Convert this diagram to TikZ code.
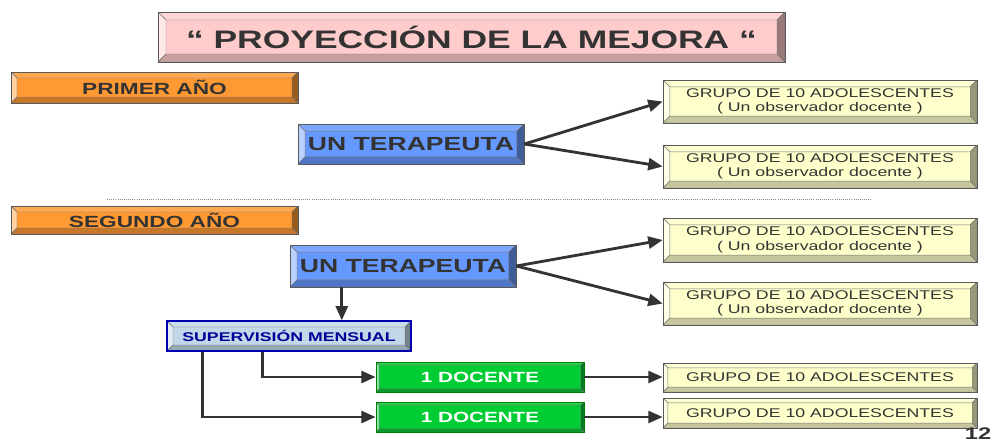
\documentclass[tikz,border=0pt]{standalone}
\usepackage{fontspec}
\setmainfont[FakeStretch=1.4]{Liberation Sans}
\usetikzlibrary{calc,arrows.meta}
\definecolor{pinkface}{HTML}{FFCCCC}
\definecolor{orangeface}{HTML}{FF9933}
\definecolor{blueface}{HTML}{6699FF}
\definecolor{yellowface}{HTML}{FFFFCC}
\definecolor{supface}{HTML}{C2D8E8}
\definecolor{greenface}{HTML}{00CC33}
\definecolor{textgray}{HTML}{333333}
\definecolor{supblue}{HTML}{000099}
\newcommand\bdepth{0.15cm}
\tikzset{
  bevel depth/.store in=\bdepth,
  bevel/.style={fill=#1,draw=black!65,line width=0.5pt,text=textgray,inner sep=0pt,
    path picture={
      \coordinate (bsw) at (path picture bounding box.south west);
      \coordinate (bne) at (path picture bounding box.north east);
      \begin{scope}[draw=black!55,line width=0.3pt]
      % top, left, right, bottom
      \filldraw[fill=#1!85!white] (bsw|-bne) -- (bne) -- ($(bne)+(-\bdepth,-\bdepth)$) -- ($(bsw|-bne)+(\bdepth,-\bdepth)$) -- cycle;
      \filldraw[fill=#1!45!white] (bsw) -- (bsw|-bne) -- ($(bsw|-bne)+(\bdepth,-\bdepth)$) -- ($(bsw)+(\bdepth,\bdepth)$) -- cycle;
      \filldraw[fill=#1!60!black] (bne) -- (bne|-bsw) -- ($(bne|-bsw)+(-\bdepth,\bdepth)$) -- ($(bne)+(-\bdepth,-\bdepth)$) -- cycle;
      \filldraw[fill=#1!78!black] (bsw) -- (bne|-bsw) -- ($(bne|-bsw)+(-\bdepth,\bdepth)$) -- ($(bsw)+(\bdepth,\bdepth)$) -- cycle;
      \end{scope}
    }},
  conn/.style={draw=textgray,line width=2pt,-{Triangle[length=0.36cm,width=0.3cm]}},
  grupo/.style={bevel=yellowface,bevel depth=0.17cm,minimum width=7.85cm,align=center,font=\fontsize{9}{10.5}\selectfont},
  tera/.style={bevel=blueface,bevel depth=0.18cm,minimum width=5.65cm,font=\fontsize{13.5}{16}\selectfont\bfseries},
  anio/.style={bevel=orangeface,minimum width=7.175cm,font=\fontsize{11.5}{13}\selectfont\bfseries},
  docente/.style={bevel=greenface,bevel depth=0.08cm,draw=green!50!black,minimum width=5.2cm,minimum height=0.75cm,text=white,font=\fontsize{10.5}{12}\selectfont\bfseries}
}
\begin{document}
\begin{tikzpicture}
\useasboundingbox (0,0) rectangle (24.85,-11.025);
\node[bevel=pinkface,bevel depth=0.2cm,minimum width=15.675cm,minimum height=1.25cm,font=\fontsize{18}{20}\selectfont\bfseries](titulo) at (11.7875,-0.925){“ PROYECCIÓN DE LA MEJORA “};
% primer año
\node[anio,minimum height=0.775cm](primer) at (3.8625,-2.1875){PRIMER AÑO};
\node[tera,minimum height=1.0cm](ter1) at (10.275,-3.6){UN TERAPEUTA};
\node[grupo,minimum height=1.075cm](g1) at (20.5,-2.5375){GRUPO DE 10 ADOLESCENTES\\( Un observador docente )};
\node[grupo,minimum height=1.075cm](g2) at (20.5,-4.1625){GRUPO DE 10 ADOLESCENTES\\( Un observador docente )};
\draw[conn](ter1.east) -- (g1.west);
\draw[conn](ter1.east) -- (g2.west);
\draw[black!45,densely dotted,line width=0.5pt] (2.675,-4.975) -- (21.8,-4.975);
% segundo año
\node[anio,minimum height=0.7cm](segundo) at (3.8625,-5.5){SEGUNDO AÑO};
\node[tera,minimum height=1.05cm](ter2) at (10.075,-6.65){UN TERAPEUTA};
\node[grupo,minimum height=1.1cm](g3) at (20.5,-6.0){GRUPO DE 10 ADOLESCENTES\\( Un observador docente )};
\node[grupo,minimum height=1.075cm](g4) at (20.5,-7.5875){GRUPO DE 10 ADOLESCENTES\\( Un observador docente )};
\draw[conn](ter2.east) -- (g3.west);
\draw[conn](ter2.east) -- (g4.west);
\node[bevel=supface,bevel depth=0.15cm,draw=blue!70!black,line width=0.8pt,text=supblue,minimum width=6.1cm,minimum height=0.75cm,font=\fontsize{9}{11}\selectfont\bfseries](sup) at (7.225,-8.4){SUPERVISIÓN MENSUAL};
\coordinate (tbase) at ($(ter2.south west)!0.23!(ter2.south east)$);
\draw[conn](tbase) -- (tbase|-sup.north);
\node[docente](doc1) at (12.0,-9.425){1 DOCENTE};
\node[docente](doc2) at (12.0,-10.425){1 DOCENTE};
\node[grupo,bevel depth=0.12cm,minimum height=0.725cm](g5) at (20.5,-9.4375){GRUPO DE 10 ADOLESCENTES};
\node[grupo,bevel depth=0.12cm,minimum height=0.75cm](g6) at (20.5,-10.325){GRUPO DE 10 ADOLESCENTES};
\draw[conn]($(sup.south west)!0.393!(sup.south east)$) |- (doc1.west);
\draw[conn]($(sup.south west)!0.148!(sup.south east)$) |- (doc2.west);
\draw[conn](doc1.east) -- (doc1.east-|g5.west);
\draw[conn](doc2.east) -- (doc2.east-|g6.west);
\node[text=textgray,anchor=base,inner sep=0pt,font=\fontsize{12}{12}\selectfont\bfseries](pag) at (24.45,-10.99){12};
\end{tikzpicture}
\end{document}
